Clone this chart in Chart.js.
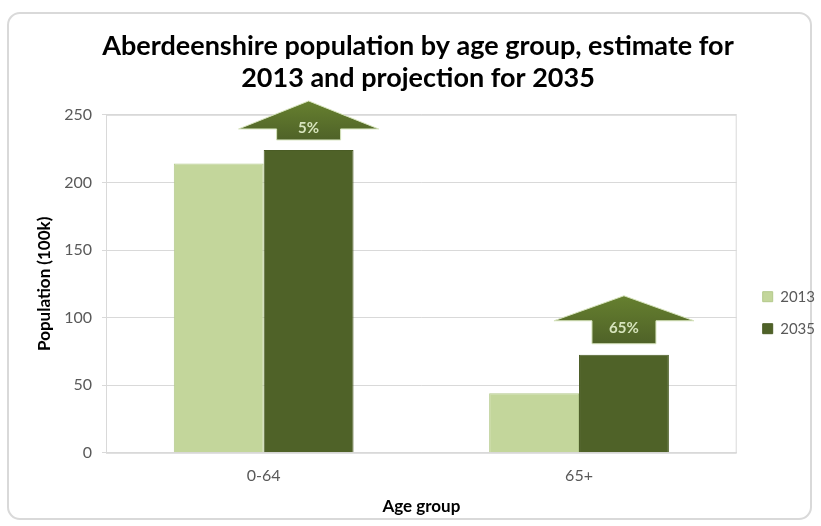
<!DOCTYPE html>
<html>
<head>
<meta charset="utf-8">
<script src="https://cdn.jsdelivr.net/npm/chart.js@4.4.0/dist/chart.umd.min.js"></script>
<style>
  body { margin: 0; background: #fff; }
  #wrap { width: 821px; height: 526px; }
</style>
</head>
<body>
<div id="wrap"><canvas id="myChart" width="821" height="526"></canvas></div>
<script>
const ageGroups = ['0-64', '65+'];
const seriesNames = ['2013', '2035'];
const pop2013 = [214, 44];
const pop2035 = [224, 72.5];
const yTicks = [0, 50, 100, 150, 200, 250];

const COLORS = {
  light: '#c3d69b',
  dark: '#4f6228',
  grid: '#d9d9d9',
  text: '#595959'
};

const FONT = 'Lato, "Open Sans", sans-serif';

// rounded frame round the whole chart and a box round the plot area
const framePlugin = {
  id: 'frame',
  afterLayout(chart) {
    // push the legend a little further from the plot
    chart.legend.left += 9;
    chart.legend.right += 9;
  },
  beforeDraw(chart) {
    const ctx = chart.ctx;
    ctx.save();
    ctx.fillStyle = '#fff';
    ctx.fillRect(0, 0, chart.width, chart.height);
    ctx.strokeStyle = '#d9d9d9';
    ctx.lineWidth = 2;
    ctx.beginPath();
    ctx.roundRect(8, 13, 803, 506, 12);
    ctx.stroke();
    ctx.restore();
  },
  afterDatasetsDraw(chart) {
    const ctx = chart.ctx;
    const a = chart.chartArea;
    ctx.save();
    ctx.strokeStyle = COLORS.grid;
    ctx.lineWidth = 1;
    ctx.strokeRect(a.left + 0.5, a.top + 0.5, a.right - a.left - 1, a.bottom - a.top);
    ctx.restore();
  }
};

// up arrows over the 2035 bars with the change from 2013
const arrowShapes = [
  { gap: 10, head: 28, shaft: 11, text: 12 },
  { gap: 11, head: 25, shaft: 23, text: 16 }
];

const arrowPlugin = {
  id: 'arrows',
  afterDatasetsDraw(chart) {
    const ctx = chart.ctx;
    const bars = chart.getDatasetMeta(1).data;
    bars.forEach((bar, i) => {
      const s = arrowShapes[i];
      const pct = Math.round((pop2035[i] - pop2013[i]) / pop2013[i] * 100);
      const cx = bar.x;
      const bottom = bar.y - s.gap;
      const shaftHalf = 32;
      const headHalf = 70;
      const headBase = bottom - s.shaft;
      const tip = headBase - s.head;
      ctx.save();
      ctx.beginPath();
      ctx.moveTo(cx, tip);
      ctx.lineTo(cx + headHalf, headBase);
      ctx.lineTo(cx + shaftHalf, headBase);
      ctx.lineTo(cx + shaftHalf, bottom);
      ctx.lineTo(cx - shaftHalf, bottom);
      ctx.lineTo(cx - shaftHalf, headBase);
      ctx.lineTo(cx - headHalf, headBase);
      ctx.closePath();
      const g = ctx.createLinearGradient(0, tip, 0, bottom);
      g.addColorStop(0, '#66802f');
      g.addColorStop(1, '#4f6228');
      ctx.fillStyle = g;
      ctx.fill();
      ctx.strokeStyle = '#d7e4bd';
      ctx.lineWidth = 1;
      ctx.stroke();
      ctx.fillStyle = '#d7e4bd';
      ctx.font = 'bold 15px ' + FONT;
      ctx.textAlign = 'center';
      ctx.textBaseline = 'middle';
      ctx.fillText(pct + '%', cx, bottom - s.text);
      ctx.restore();
    });
  }
};

const ctx = document.getElementById('myChart').getContext('2d');

const config = {
  type: 'bar',
  data: {
    labels: ageGroups,
    datasets: [{
      label: seriesNames[0],
      data: pop2013,
      backgroundColor: COLORS.light,
      borderColor: '#b3c98b',
      borderWidth: 1,
      categoryPercentage: 0.57,
      barPercentage: 1.0
    }, {
      label: seriesNames[1],
      data: pop2035,
      backgroundColor: COLORS.dark,
      borderColor: '#4a5c25',
      borderWidth: 1,
      categoryPercentage: 0.57,
      barPercentage: 1.0
    }]
  },
  options: {
    responsive: false,
    animation: false,
    layout: { padding: { left: 20, right: 5, top: 18, bottom: 11 } },
    plugins: {
      title: {
        display: true,
        text: ['Aberdeenshire population by age group, estimate for', '2013 and projection for 2035'],
        color: '#000',
        font: { family: FONT, size: 27, weight: 'bold', lineHeight: 1.2 },
        padding: { top: 12, bottom: 20 }
      },
      legend: {
        position: 'right',
        title: { display: true, text: '', font: { size: 12, lineHeight: 1.2 }, padding: { top: 78, bottom: 0 } },
        labels: {
          color: COLORS.text,
          font: { family: FONT, size: 15 },
          boxWidth: 10,
          boxHeight: 10,
          padding: 17
        }
      },
      tooltip: { enabled: false }
    },
    scales: {
      x: {
        grid: { display: false, drawTicks: false },
        border: { color: COLORS.grid },
        ticks: { color: COLORS.text, font: { family: FONT, size: 16 }, padding: 13 },
        title: {
          display: true,
          text: 'Age group',
          color: '#000',
          font: { family: FONT, size: 17, weight: 'bold', lineHeight: 1.0 },
          padding: { top: 0, bottom: 0 }
        }
      },
      y: {
        min: 0,
        max: 250,
        afterBuildTicks(scale) {
          scale.ticks = yTicks.map(v => ({ value: v }));
        },
        afterFit(scale) {
          scale.width = 86;
        },
        grid: { color: COLORS.grid, tickLength: 4 },
        border: { color: COLORS.grid },
        ticks: { color: COLORS.text, font: { family: FONT, size: 16 }, padding: 10 },
        title: {
          display: true,
          text: 'Population (100k)',
          color: '#000',
          font: { family: FONT, size: 17, weight: 'bold' },
          padding: { top: 14, bottom: 0 }
        }
      }
    }
  },
  plugins: [framePlugin, arrowPlugin]
};

var myChart = new Chart(ctx, config);
</script>
</body>
</html>
